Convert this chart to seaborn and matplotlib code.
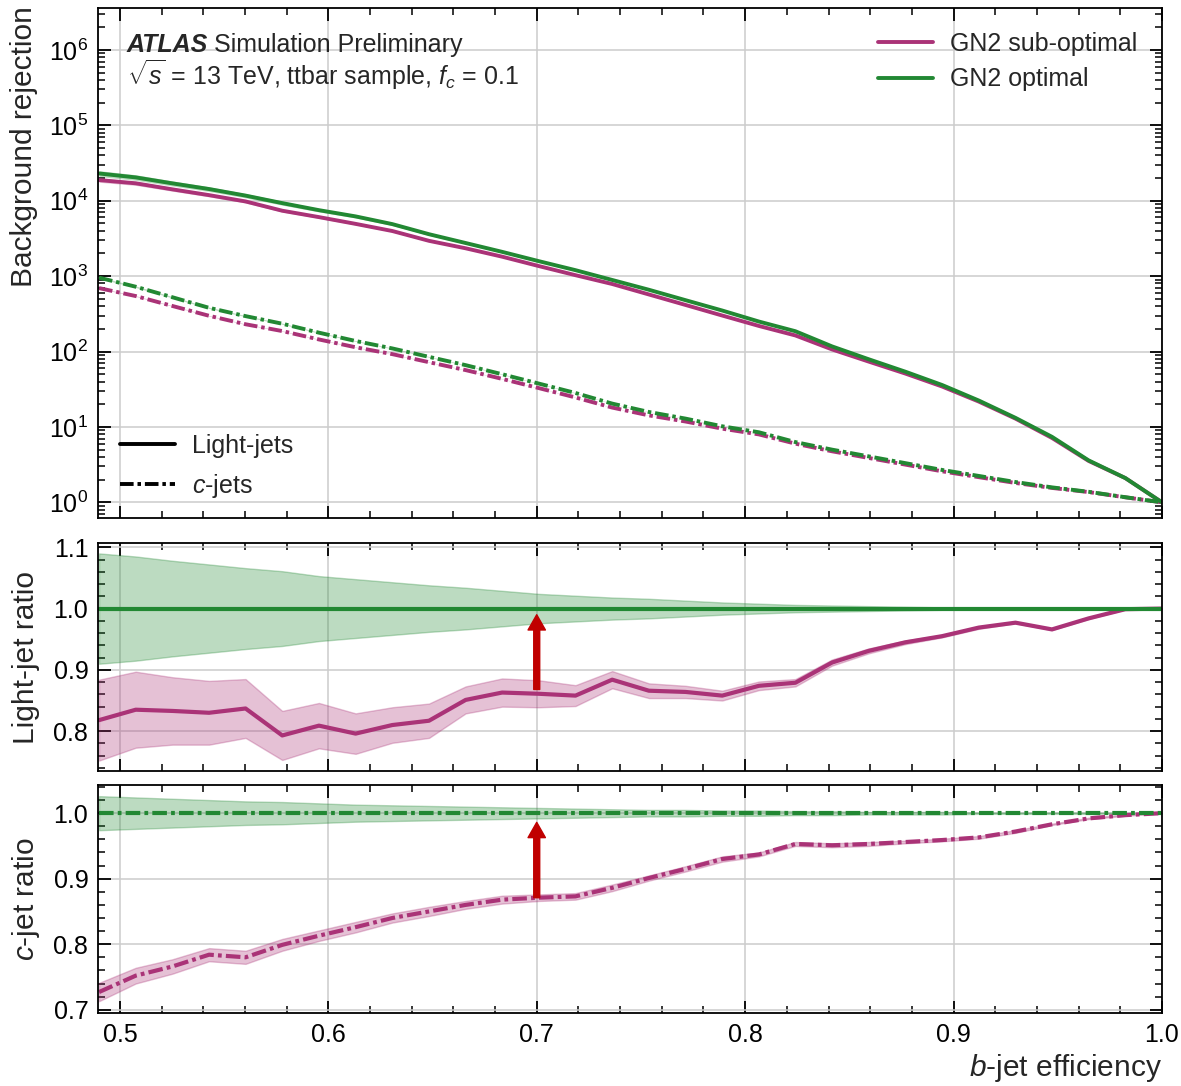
import numpy as np
import pandas as pd
import matplotlib
matplotlib.use("Agg")
import matplotlib.pyplot as plt
import seaborn as sns
from matplotlib.ticker import MultipleLocator, LogLocator, NullFormatter
from matplotlib.lines import Line2D

# ---------------- data ----------------
eff = [0.4900, 0.5076, 0.5252, 0.5428, 0.5603, 0.5779, 0.5955, 0.6131, 0.6307, 0.6483,
       0.6659, 0.6834, 0.7010, 0.7186, 0.7362, 0.7538, 0.7714, 0.7890, 0.8066, 0.8241,
       0.8417, 0.8593, 0.8769, 0.8945, 0.9121, 0.9297, 0.9472, 0.9648, 0.9824, 1.0000]

# GN2 optimal rejections
rej_light_opt = [23000, 20400, 17000, 14300, 11700, 9300, 7500, 6200, 4900, 3600,
                 2750, 2100, 1580, 1200, 890, 660, 480, 350, 250, 186,
                 117, 79, 54, 36, 22.4, 13.2, 7.4, 3.6, 2.1, 1.0]
rej_c_opt = [955, 724, 525, 380, 295, 234, 178, 138, 110, 85,
             66, 50, 37.6, 28.2, 20.4, 15.8, 12.9, 10.2, 8.5, 6.3,
             5.0, 4.07, 3.31, 2.69, 2.24, 1.86, 1.58, 1.38, 1.17, 1.0]

# GN2 sub-optimal / GN2 optimal ratios
ratio_light_sub = [0.818, 0.835, 0.833, 0.830, 0.837, 0.793, 0.809, 0.796, 0.810, 0.817,
                   0.851, 0.863, 0.861, 0.858, 0.884, 0.866, 0.864, 0.858, 0.874, 0.879,
                   0.912, 0.931, 0.945, 0.955, 0.969, 0.977, 0.966, 0.984, 0.999, 1.000]
ratio_c_sub = [0.727, 0.752, 0.766, 0.784, 0.780, 0.799, 0.813, 0.826, 0.840, 0.850,
               0.860, 0.868, 0.871, 0.873, 0.886, 0.901, 0.915, 0.930, 0.937, 0.953,
               0.951, 0.953, 0.956, 0.959, 0.963, 0.972, 0.983, 0.992, 0.997, 1.000]

# relative uncertainties (half widths of the bands)
err_light_sub = [0.066, 0.062, 0.055, 0.052, 0.048, 0.040, 0.037, 0.033, 0.029, 0.028,
                 0.022, 0.023, 0.022, 0.017, 0.014, 0.012, 0.010, 0.008, 0.007, 0.006,
                 0.005, 0.004, 0.003, 0.002, 0.002, 0.001, 0.001, 0.001, 0.0005, 0.0]
err_light_opt = [0.090, 0.085, 0.078, 0.072, 0.066, 0.061, 0.053, 0.048, 0.043, 0.038,
                 0.034, 0.029, 0.024, 0.021, 0.018, 0.016, 0.013, 0.010, 0.008, 0.006,
                 0.005, 0.004, 0.003, 0.002, 0.002, 0.001, 0.001, 0.001, 0.0005, 0.0]
err_c_sub = [0.014, 0.012, 0.011, 0.010, 0.010, 0.009, 0.008, 0.008, 0.007, 0.007,
             0.006, 0.006, 0.005, 0.005, 0.005, 0.004, 0.004, 0.004, 0.003, 0.003,
             0.003, 0.003, 0.002, 0.002, 0.002, 0.002, 0.001, 0.001, 0.001, 0.0]
err_c_opt = [0.026, 0.024, 0.022, 0.020, 0.018, 0.017, 0.015, 0.013, 0.012, 0.011,
             0.010, 0.009, 0.008, 0.007, 0.006, 0.005, 0.005, 0.004, 0.004, 0.003,
             0.003, 0.002, 0.002, 0.002, 0.001, 0.001, 0.001, 0.001, 0.0005, 0.0]

models = ["GN2 sub-optimal", "GN2 optimal"]
flavours = ["Light-jets", "c-jets"]
flavour_labels = ["Light-jets", "$c$-jets"]
arrow_x = 0.7
arrow_light = (0.868, 0.990)
arrow_c = (0.871, 0.986)

# ---------------- style ----------------
sns.set_theme(style="ticks")
plt.rcParams["font.family"] = ["Liberation Sans", "DejaVu Sans"]
plt.rcParams["mathtext.fontset"] = "custom"
plt.rcParams["mathtext.rm"] = "Liberation Sans"
plt.rcParams["mathtext.it"] = "Liberation Sans:italic"
plt.rcParams["mathtext.bf"] = "Liberation Sans:bold"
plt.rcParams["axes.linewidth"] = 1.3
FS = 18
LFS = 21.5

MAG = "#AA3377"
GRN = "#228833"
palette = {models[0]: MAG, models[1]: GRN}
DASHDOT = (3.5, 1.0, 0.9, 1.0)
dashes = {flavours[0]: "", flavours[1]: DASHDOT}

eff_a = np.array(eff)
rl_opt = np.array(rej_light_opt)
rc_opt = np.array(rej_c_opt)
rl_sub = rl_opt * np.array(ratio_light_sub)
rc_sub = rc_opt * np.array(ratio_c_sub)

def long_df(pairs):
    frames = []
    for model, flav, vals in pairs:
        frames.append(pd.DataFrame({"eff": eff_a, "value": vals, "model": model, "flavour": flav}))
    return pd.concat(frames, ignore_index=True)

top_df = long_df([(models[0], flavours[0], rl_sub), (models[0], flavours[1], rc_sub),
                  (models[1], flavours[0], rl_opt), (models[1], flavours[1], rc_opt)])
light_df = long_df([(models[0], flavours[0], np.array(ratio_light_sub)),
                    (models[1], flavours[0], np.ones(len(eff)))])
c_df = long_df([(models[0], flavours[1], np.array(ratio_c_sub)),
                (models[1], flavours[1], np.ones(len(eff)))])

W, H = 1181, 1086
fig = plt.figure(figsize=(W / 100, H / 100), dpi=100)

def ax_at(x0, y0, x1, y1):
    return fig.add_axes([x0 / W, 1 - y1 / H, (x1 - x0) / W, (y1 - y0) / H])

ax_top = ax_at(98, 8, 1162, 518)
ax_mid = ax_at(98, 543, 1162, 771)
ax_bot = ax_at(98, 785, 1162, 1013)

# ---------- top panel ----------
ax_top.set_yscale("log")
for vals, err, col in [(rl_sub, err_light_sub, MAG), (rc_sub, err_c_sub, MAG),
                       (rl_opt, err_light_opt, GRN), (rc_opt, err_c_opt, GRN)]:
    e = np.array(err)
    ax_top.fill_between(eff_a, vals * (1 - e), vals * (1 + e), color=col, alpha=0.3, lw=0)
sns.lineplot(data=top_df, x="eff", y="value", hue="model", style="flavour",
             palette=palette, dashes=dashes, hue_order=models, style_order=flavours,
             linewidth=2.8, legend=False, ax=ax_top, sort=False)
ax_top.set_ylim(0.62, 3.6e6)

# ---------- ratio panels ----------
def ratio_panel(ax, df, err_sub, err_opt, vals_sub, style):
    e_o = np.array(err_opt)
    e_s = np.array(err_sub)
    v = np.array(vals_sub)
    ax.fill_between(eff_a, 1 - e_o, 1 + e_o, facecolor=GRN, alpha=0.3, edgecolor=GRN, lw=1.0)
    ax.fill_between(eff_a, v - e_s, v + e_s, facecolor=MAG, alpha=0.3, edgecolor=MAG, lw=1.0)
    sns.lineplot(data=df, x="eff", y="value", hue="model", style="flavour",
                 palette=palette, dashes=dashes, hue_order=models, style_order=[style],
                 linewidth=3.0, legend=False, ax=ax, sort=False)

ratio_panel(ax_mid, light_df, err_light_sub, err_light_opt, ratio_light_sub, flavours[0])
ratio_panel(ax_bot, c_df, err_c_sub, err_c_opt, ratio_c_sub, flavours[1])
ax_mid.set_ylim(0.735, 1.107)
ax_bot.set_ylim(0.695, 1.043)

for ax, (y0, y1) in [(ax_mid, arrow_light), (ax_bot, arrow_c)]:
    ax.annotate("", xy=(arrow_x, y1), xytext=(arrow_x, y0),
                arrowprops=dict(facecolor="#C00000", edgecolor="#C00000",
                                width=4.3, headwidth=12.5, headlength=11, shrink=0.0))
    ax.yaxis.set_major_locator(MultipleLocator(0.1))
    ax.yaxis.set_minor_locator(MultipleLocator(0.02))
    ax.yaxis.set_major_formatter(matplotlib.ticker.FormatStrFormatter("%.1f"))

# ---------- common axis styling ----------
for ax in [ax_top, ax_mid, ax_bot]:
    ax.set_xlim(0.4895, 1.0)
    ax.xaxis.set_major_locator(MultipleLocator(0.1))
    ax.xaxis.set_minor_locator(MultipleLocator(0.02))
    ax.grid(True, which="major", color="#cccccc", lw=1.1)
    ax.set_axisbelow(True)
    ax.tick_params(which="both", direction="in", top=True, right=True, labelsize=FS,
                   colors="black", pad=7)
    ax.tick_params(which="major", length=9, width=1.3)
    ax.tick_params(which="minor", length=5, width=1.1)
    ax.set_xlabel("")
    ax.set_ylabel("")
    for s in ax.spines.values():
        s.set_color("black")
for ax in [ax_top, ax_mid]:
    ax.tick_params(axis="x", labelbottom=False)

ax_top.yaxis.set_major_locator(LogLocator(base=10, numticks=20))
ax_top.yaxis.set_minor_locator(LogLocator(base=10, subs=np.arange(2, 10), numticks=100))
ax_top.yaxis.set_minor_formatter(NullFormatter())

ax_bot.set_xlabel("$b$-jet efficiency", fontsize=LFS, loc="right", labelpad=4)

# y labels
fig.text(24 / W, 1 - 6 / H, "Background rejection", rotation=90, ha="center", va="top", fontsize=LFS)
fig.text(26 / W, 1 - 657 / H, "Light-jet ratio", rotation=90, ha="center", va="center", fontsize=LFS)
fig.text(26 / W, 1 - 899 / H, "$c$-jet ratio", rotation=90, ha="center", va="center", fontsize=LFS)

# ATLAS label
t1 = ax_top.text(0.027, 0.914, "ATLAS", transform=ax_top.transAxes, fontsize=FS,
                 fontweight="bold", fontstyle="italic", va="baseline", ha="left")
fig.canvas.draw()
bb = t1.get_window_extent()
inv = ax_top.transAxes.inverted()
x_end = inv.transform((bb.x1, bb.y0))[0]
ax_top.text(x_end + 0.006, 0.914, "Simulation Preliminary", transform=ax_top.transAxes,
            fontsize=FS, va="baseline", ha="left")
ax_top.text(0.027, 0.850, r"$\sqrt{s}$ = 13 TeV, ttbar sample, $f_{c}$ = 0.1",
            transform=ax_top.transAxes, fontsize=FS, va="baseline", ha="left")

# legends
h_models = [Line2D([], [], color=palette[m], lw=2.8) for m in models]
leg1 = ax_top.legend(h_models, models, loc="upper left", frameon=False, fontsize=FS,
                     bbox_to_anchor=(878 / W, 1 - 32 / H), bbox_transform=fig.transFigure,
                     borderpad=0, borderaxespad=0, handlelength=2.2, handletextpad=0.7,
                     labelspacing=0.45)
ax_top.add_artist(leg1)
h_flav = [Line2D([], [], color="black", lw=2.8),
          Line2D([], [], color="black", lw=2.8, dashes=DASHDOT)]
ax_top.legend(h_flav, flavour_labels, loc="upper left", frameon=False, fontsize=FS,
              bbox_to_anchor=(120 / W, 1 - 434 / H), bbox_transform=fig.transFigure,
              borderpad=0, borderaxespad=0, handlelength=2.2, handletextpad=0.7,
              labelspacing=0.55)

fig.savefig("out.png", dpi=100, facecolor="white")
